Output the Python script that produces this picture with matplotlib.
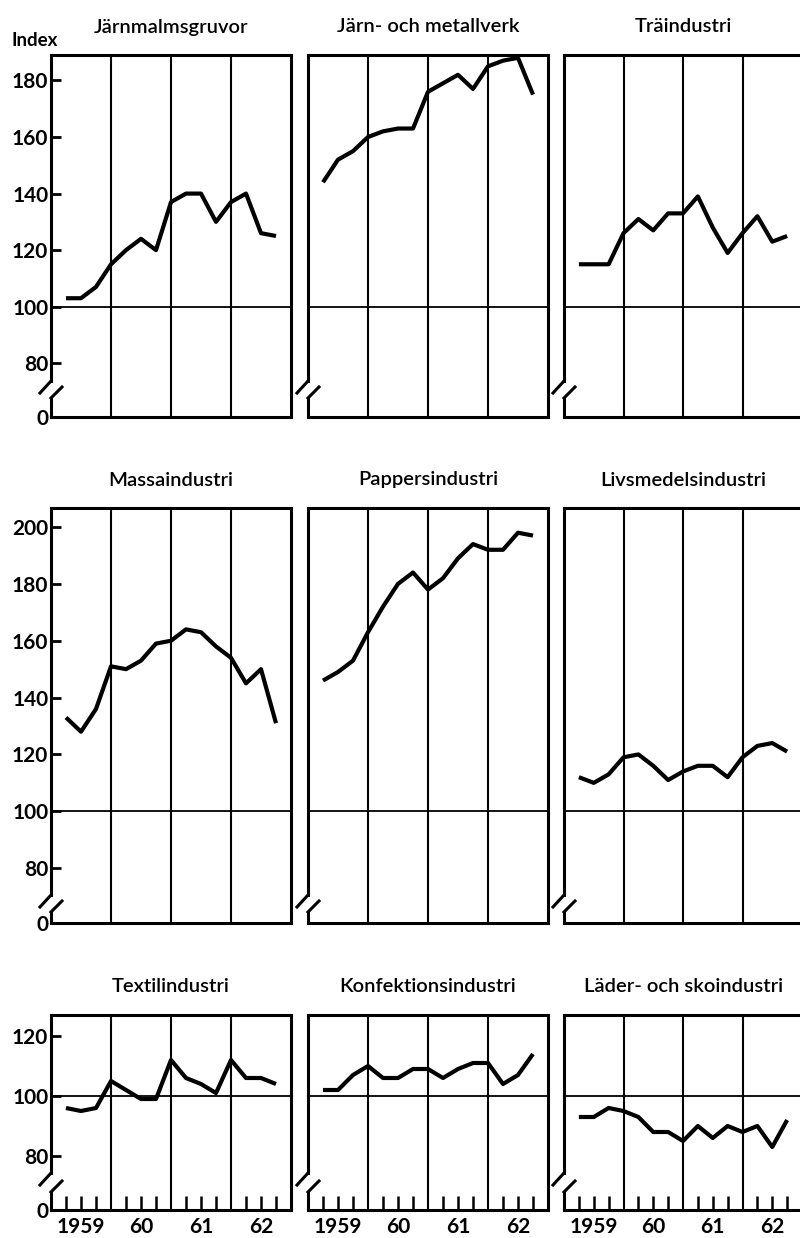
import matplotlib
matplotlib.use("Agg")
import matplotlib.pyplot as plt
import numpy as np

# quarterly index values, 1959 Q1 .. 1962 Q3 (1959 = 100 line)
quarters = np.arange(1, 16)
year_labels = ["1959", "60", "61", "62"]

titles = [
    "Järnmalmsgruvor", "Järn- och metallverk", "Träindustri",
    "Massaindustri", "Pappersindustri", "Livsmedelsindustri",
    "Textilindustri", "Konfektionsindustri", "Läder- och skoindustri",
]

jarnmalm = [103, 103, 107, 115, 120, 124, 120, 137, 140, 140, 130, 137, 140, 126, 125]
metallverk = [144, 152, 155, 160, 162, 163, 163, 176, 179, 182, 177, 185, 187, 188, 175]
traindustri = [115, 115, 115, 126, 131, 127, 133, 133, 139, 128, 119, 126, 132, 123, 125]
massa = [133, 128, 136, 151, 150, 153, 159, 160, 164, 163, 158, 154, 145, 150, 131]
papper = [146, 149, 153, 163, 172, 180, 184, 178, 182, 189, 194, 192, 192, 198, 197]
livsmedel = [112, 110, 113, 119, 120, 116, 111, 114, 116, 116, 112, 119, 123, 124, 121]
textil = [96, 95, 96, 105, 102, 99, 99, 112, 106, 104, 101, 112, 106, 106, 104]
konfektion = [102, 102, 107, 110, 106, 106, 109, 109, 106, 109, 111, 111, 104, 107, 114]
lader = [93, 93, 96, 95, 93, 88, 88, 85, 90, 86, 90, 88, 90, 83, 92]

series = [jarnmalm, metallverk, traindustri, massa, papper, livsmedel,
          textil, konfektion, lader]

FIG_W, FIG_H = 800, 1238
FONT = "Lato"

# row layout in pixels: top, bottom, ylim, ticks, break (upper end, lower start)
rows = [
    (55, 417, (61, 189), [80, 100, 120, 140, 160, 180], (36, 19)),
    (508, 923, (60.7, 206.7), [80, 100, 120, 140, 160, 180, 200], (28, 11)),
    (1015, 1210, (62, 127), [80, 100, 120], (37, 18)),
]
col_left = [51, 308, 564]
col_width = [240, 240, 238]

fig = plt.figure(figsize=(FIG_W / 100, FIG_H / 100), dpi=100)

for i, (title, values) in enumerate(zip(titles, series)):
    r, c = divmod(i, 3)
    top, bottom, ylim, yticks, brk = rows[r]
    left, w = col_left[c], col_width[c]
    h = bottom - top
    ax = fig.add_axes([left / FIG_W, 1 - bottom / FIG_H, w / FIG_W, h / FIG_H])
    ax.set_xlim(0, 16)
    ax.set_ylim(*ylim)

    for yr in (4, 8, 12):
        ax.axvline(yr, color="black", lw=1.5)
    ax.axhline(100, color="black", lw=1.3)
    ax.plot(quarters, values, color="black", lw=3.0, solid_joinstyle="round",
            solid_capstyle="butt")

    for s in ("top", "right", "bottom"):
        ax.spines[s].set_linewidth(2.2)
    ax.spines["left"].set_visible(False)

    # broken left axis
    up, lo = brk
    kw = dict(transform=ax.transAxes, color="black", lw=2.2, clip_on=False)
    ax.plot([0, 0], [up / h, 1], **kw)
    ax.plot([0, 0], [0, lo / h], **kw)
    ax.plot([-11 / w, 0], [(up - 12) / h, up / h], **kw)
    ax.plot([0, 11 / w], [lo / h, (lo + 11) / h], **kw)

    if c == 0:
        ax.set_yticks([ylim[0]] + yticks)
        ax.set_yticklabels(["0"] + [str(t) for t in yticks],
                           fontfamily=FONT, fontweight="bold", fontsize=15)
        ax.tick_params(axis="y", direction="in", length=7, width=2, pad=2)
    else:
        ax.set_yticks([])

    if r == 2:
        ax.xaxis.remove_overlapping_locs = False
        ax.set_xticks([q for q in range(1, 16) if q % 4 != 0])
        ax.set_xticklabels([])
        ax.set_xticks([2, 6, 10, 14], minor=True)
        ax.set_xticklabels(year_labels, minor=True, fontfamily=FONT,
                           fontweight="bold", fontsize=15)
        ax.tick_params(axis="x", which="major", direction="in", length=10,
                       width=1.8)
        ax.tick_params(axis="x", which="minor", length=0, pad=5)
    else:
        ax.set_xticks([])

    ax.text(0.5, 1 + 28 / h, title, transform=ax.transAxes, ha="center",
            va="center", fontfamily=FONT, fontsize=14.5, fontweight="semibold")

fig.text(35 / FIG_W, 1 - 40 / FIG_H, "Index", ha="center", va="center",
         fontfamily=FONT, fontweight="bold", fontsize=13.5)

fig.savefig("out.png", dpi=100)
